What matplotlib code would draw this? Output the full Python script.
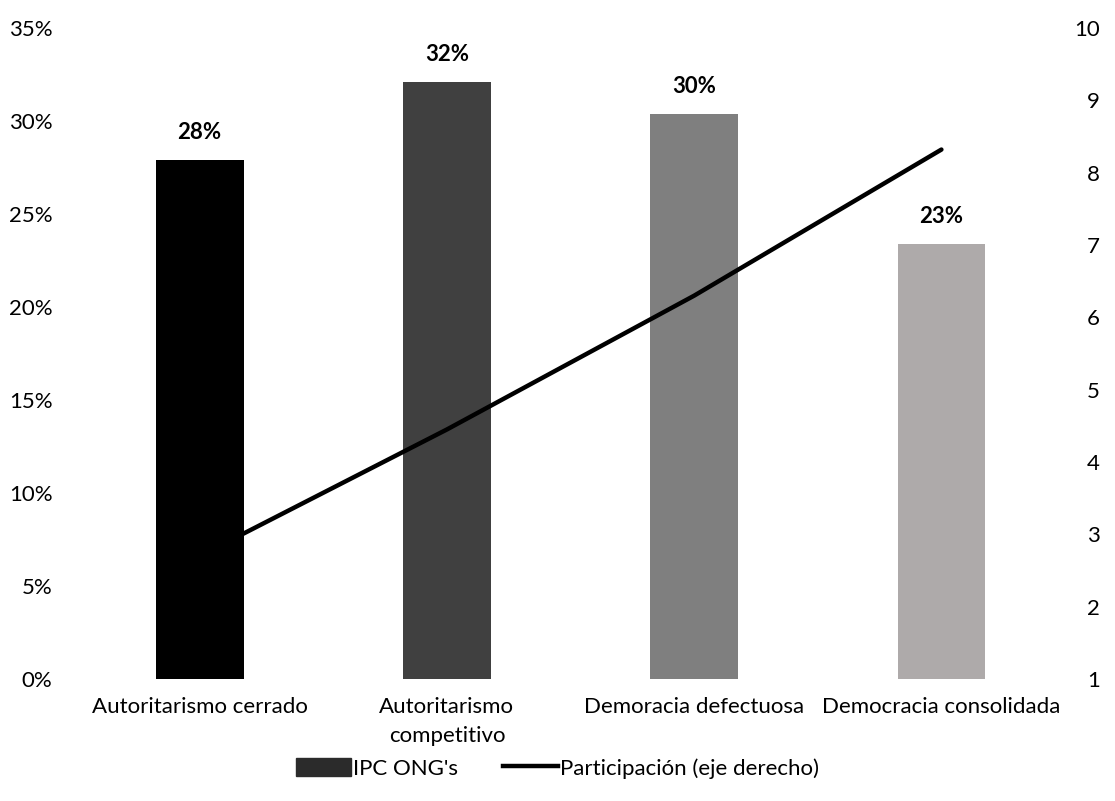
import matplotlib
matplotlib.use("Agg")
import matplotlib.pyplot as plt
from matplotlib.ticker import FuncFormatter
from matplotlib.patches import Patch
from matplotlib.lines import Line2D

plt.rcParams['font.family'] = ['Lato', 'DejaVu Sans']

# datos
categorias = ["Autoritarismo cerrado", "Autoritarismo\ncompetitivo",
              "Demoracia defectuosa", "Democracia consolidada"]
ipc_ong = [27.9, 32.1, 30.4, 23.4]          # % (eje izquierdo)
participacion = [2.7, 4.45, 6.3, 8.32]      # eje derecho
colores = ["#000000", "#404040", "#7f7f7f", "#aeaaaa"]

fig = plt.figure(figsize=(11.15, 8.01), dpi=100)
ax = fig.add_axes([0.0682, 0.1523, 0.887, 0.8127])
ax2 = ax.twinx()

x = list(range(len(categorias)))
ax.bar(x, ipc_ong, width=0.355, color=colores, zorder=2)
for xi, v in zip(x, ipc_ong):
    ax.annotate("%d%%" % round(v), (xi, v), xytext=(0, 12), textcoords="offset points",
                ha="center", va="bottom", fontsize=16, fontweight="bold")

ax2.plot(x, participacion, color="black", lw=3.2, solid_capstyle="round", zorder=3)

ax.set_xlim(-0.5, 3.5)
ax.set_ylim(0, 35)
ax.set_yticks(range(0, 36, 5))
ax.yaxis.set_major_formatter(FuncFormatter(lambda v, p: "%d%%" % v))
ax2.set_ylim(1, 10)
ax2.set_yticks(range(1, 11))

ax.set_xticks(x)
ax.set_xticklabels(categorias, fontsize=16, linespacing=1.55)
ax.tick_params(axis="x", length=0, pad=13)
ax.tick_params(axis="y", length=0, pad=17, labelsize=16)
ax2.tick_params(axis="y", length=0, pad=25, labelsize=16)
for t in ax2.get_yticklabels():
    t.set_horizontalalignment("right")

for a in (ax, ax2):
    for s in a.spines.values():
        s.set_visible(False)

ax.set_zorder(ax2.get_zorder() - 1)
ax2.patch.set_visible(False)

handles = [Patch(color="#2b2b2b", label="IPC ONG's"),
           Line2D([0], [0], color="black", lw=3.2, label="Participación (eje derecho)")]
fig.legend(handles=handles, loc="lower center", bbox_to_anchor=(0.5, 0.003), ncol=2,
           frameon=False, fontsize=16, handlelength=2.5, handletextpad=0.1,
           columnspacing=2.0, handleheight=0.9)

plt.savefig("out.png", dpi=100)
